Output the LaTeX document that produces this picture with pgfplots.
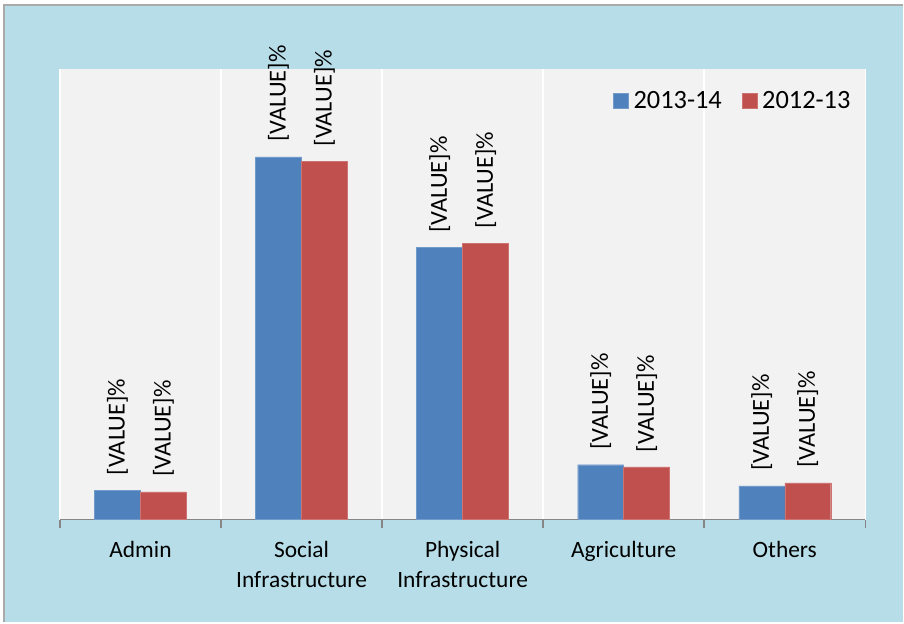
\documentclass[border=0pt]{standalone}
\usepackage{pgfplots}
\pgfplotsset{compat=1.18}
\usepackage{fontspec}
\setmainfont{Carlito}

\definecolor{bgblue}{HTML}{B7DDE8}
\definecolor{plotgray}{HTML}{F2F2F2}
\definecolor{barblue}{HTML}{4F81BD}
\definecolor{barred}{HTML}{C0504D}
\definecolor{axgray}{HTML}{868686}

\begin{document}
\begin{tikzpicture}[x=1bp,y=1bp]
  % page and outer frame
  \fill[white] (0,0) rectangle (904,623);
  \fill[bgblue] (4,0) rectangle (904,618);
  \draw[axgray!70,line width=1.5bp] (4,0) -- (4,618) -- (904,618);

  \begin{axis}[
    at={(60bp,103bp)}, anchor=south west,
    scale only axis,
    width=806bp, height=451bp,
    ybar=0pt, bar width=46bp,
    xmin=-0.5, xmax=4.5,
    ymin=0, ymax=60,
    ytick={0,10,...,60}, yticklabels={},
    xtick=data,
    xticklabels={Admin, Social\\Infrastructure, Physical\\Infrastructure, Agriculture, Others},
    xticklabel style={align=center, font=\fontsize{23.5}{30}\selectfont, yshift=-18bp},
    minor xtick={-0.5,0.5,...,4.5},
    ymajorgrids, xminorgrids,
    grid style={white, line width=1.5bp},
    minor grid style={white, line width=1.5bp},
    major tick length=0pt,
    minor tick length=8bp,
    tick align=outside,
    minor tick style={axgray, line width=1.5bp},
    axis y line=none,
    axis x line*=bottom,
    x axis line style={axgray, line width=1.5bp, -},
    axis background/.style={fill=plotgray},
    nodes near coords={[VALUE]\%},
    every node near coord/.append style={rotate=90, anchor=west, inner sep=0pt,
      outer xsep=15bp, font=\fontsize{24.5}{26}\selectfont, black},
    legend columns=2,
    legend style={at={(0.988,0.929)}, anchor=east, draw=none, fill=none,
      font=\fontsize{26.5}{28}\selectfont,
      /tikz/every odd column/.append style={column sep=3bp},
      /tikz/every even column/.append style={column sep=18bp}},
    legend image code/.code={\fill[#1] (0bp,-7.5bp) rectangle (15bp,7.5bp);},
  ]
    \addplot[fill=barblue, draw=barblue!80!white] coordinates {
      (0,3.9) (1,48.3) (2,36.2) (3,7.3) (4,4.5)
    };
    \addplot[fill=barred, draw=barred!80!white] coordinates {
      (0,3.7) (1,47.7) (2,36.8) (3,7.0) (4,4.9)
    };
    \legend{2013-14, 2012-13}
  \end{axis}
\end{tikzpicture}
\end{document}
